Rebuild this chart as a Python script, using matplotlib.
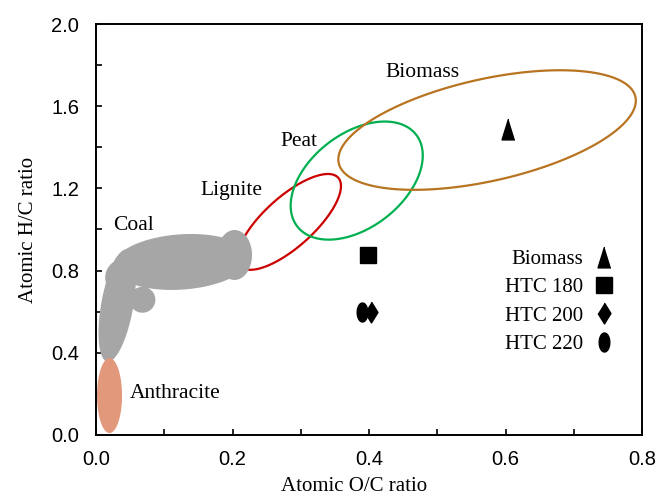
import numpy as np
import matplotlib.pyplot as plt
from matplotlib.patches import Polygon
from matplotlib.ticker import MultipleLocator, FormatStrFormatter

# HTC char samples (atomic O/C, atomic H/C)
samples = ['Biomass', 'HTC 180', 'HTC 200', 'HTC 220']
oc = [0.604, 0.398, 0.403, 0.390]
hc = [1.49, 0.878, 0.600, 0.600]

# outlined fuel regions: centre O/C, centre H/C, half axes (O/C units), tilt
rings = ['Lignite', 'Peat', 'Biomass']
ring_x = [0.283, 0.382, 0.573]
ring_y = [1.037, 1.238, 1.484]
ring_a = [0.0967, 0.110, 0.2227]
ring_b = [0.0366, 0.0689, 0.0747]
ring_ang = [42, 37.6, 12.6]

# coal band is a few overlapping blobs
coal_x = [0.125, 0.203, 0.068, 0.031, 0.038]
coal_y = [0.842, 0.876, 0.658, 0.630, 0.772]
coal_a = [0.100, 0.0366, 0.019, 0.0835, 0.026]
coal_b = [0.0405, 0.0256, 0.019, 0.0235, 0.024]
coal_ang = [4, 90, 0, 80, 60]

# anthracite
anth = (0.0198, 0.192, 0.0549, 0.0183, 90)

W, H = 6.59, 4.96
fig = plt.figure(figsize=(W, H), dpi=100)
ax = fig.add_axes([0.1457, 0.123, 0.8285, 0.8286])
ax.set_xlim(0, 0.8)
ax.set_ylim(0, 2.0)

# y squash so tilts are in screen degrees
k = (0.8286 * H / 2.0) / (0.8285 * W / 0.8)


def blob(x0, y0, a, b, ang):
    t = np.linspace(0, 2 * np.pi, 240)
    r = np.radians(ang)
    dx = a * np.cos(t) * np.cos(r) - b * np.sin(t) * np.sin(r)
    dy = a * np.cos(t) * np.sin(r) + b * np.sin(t) * np.cos(r)
    return np.column_stack([x0 + dx, y0 + dy / k])


ring_cols = ['#CC0000', '#00B050', '#B87420']
for i in range(len(rings)):
    pts = blob(ring_x[i], ring_y[i], ring_a[i], ring_b[i], ring_ang[i])
    ax.add_patch(Polygon(pts, closed=True, fill=False, ec=ring_cols[i], lw=1.6, zorder=2))

for i in range(len(coal_x)):
    pts = blob(coal_x[i], coal_y[i], coal_a[i], coal_b[i], coal_ang[i])
    ax.add_patch(Polygon(pts, closed=True, fc='#A6A6A6', ec='none', zorder=3))

ax.add_patch(Polygon(blob(*anth), closed=True, fc='#E2987B', ec='none', zorder=3))

serif = 'Liberation Serif'
fs = 15.5
ax.text(0.478, 1.766, 'Biomass', family=serif, fontsize=fs, ha='center', va='center')
ax.text(0.297, 1.43, 'Peat', family=serif, fontsize=fs, ha='center', va='center')
ax.text(0.198, 1.19, 'Lignite', family=serif, fontsize=fs, ha='center', va='center')
ax.text(0.0542, 1.019, 'Coal', family=serif, fontsize=fs, ha='center', va='center')
ax.text(0.0498, 0.204, 'Anthracite', family=serif, fontsize=fs, ha='left', va='center')

# markers (a bit tall, like the original)
tri = [(0, 1), (-0.62, -1), (0.62, -1)]
dia = [(0, 1), (0.62, 0), (0, -1), (-0.62, 0)]
tt = np.linspace(0, 2 * np.pi, 40)
oval = list(zip(0.56 * np.sin(tt), np.cos(tt)))
marks = [tri, 's', dia, oval]
sizes = [15, 11.5, 15, 13.7]
for i in range(len(samples)):
    ax.plot(oc[i], hc[i], ls='none', marker=marks[i], ms=sizes[i], color='k',
            mec='k', label=samples[i], zorder=5)

ax.legend(loc='upper right', bbox_to_anchor=(0.965, 0.477), frameon=False,
          markerfirst=False, prop={'family': serif, 'size': 15},
          handlelength=0.8, handletextpad=0.6, labelspacing=0.42, borderpad=0)

ax.xaxis.set_major_locator(MultipleLocator(0.2))
ax.xaxis.set_minor_locator(MultipleLocator(0.1))
ax.yaxis.set_major_locator(MultipleLocator(0.4))
ax.yaxis.set_minor_locator(MultipleLocator(0.2))
ax.xaxis.set_major_formatter(FormatStrFormatter('%.1f'))
ax.yaxis.set_major_formatter(FormatStrFormatter('%.1f'))
ax.tick_params(which='both', direction='in', length=4, width=1.2)
ax.tick_params(axis='x', pad=11)
ax.tick_params(axis='y', pad=12)
for lab in ax.get_xticklabels() + ax.get_yticklabels():
    lab.set_family('Liberation Sans')
    lab.set_fontsize(14.5)
for s in ax.spines.values():
    s.set_linewidth(1.4)

ax.set_xlabel('Atomic O/C ratio', family=serif, fontsize=15)
ax.set_ylabel('Atomic H/C ratio', family=serif, fontsize=15)
ax.xaxis.set_label_coords(0.4725, -0.102)
ax.yaxis.set_label_coords(-0.106, 0.5)

fig.savefig('out.png', dpi=100)
